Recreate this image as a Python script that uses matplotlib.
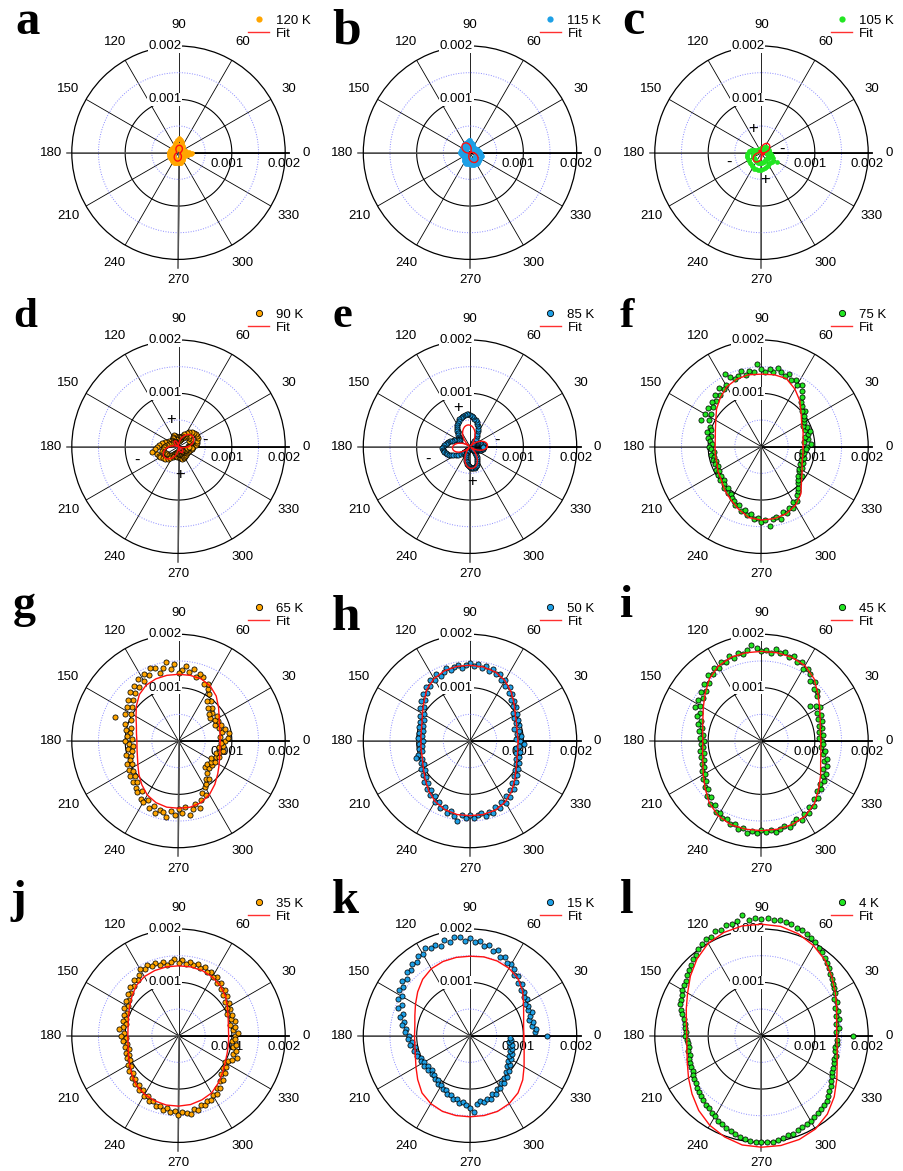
import numpy as np
import matplotlib.pyplot as plt
from matplotlib.lines import Line2D

plt.rcParams['font.family'] = ['Liberation Sans', 'DejaVu Sans']

# ---- data (radius in units of 1e-3) ----
temps = ['120 K', '115 K', '105 K', '90 K', '85 K', '75 K',
         '65 K', '50 K', '45 K', '35 K', '15 K', '4 K']
letters = list('abcdefghijkl')

orange = '#FFA500'
blue = '#1EA0E6'
green = '#22E622'
colors = [orange, blue, green] * 4

# measured points, evenly spaced in angle starting at 0 deg
r_a = [.25, .12, .19, .08, .14, .07, .12, .06, .11, .05, .10, .06, .10, .05, .10, .06, .11, .07, .13, .08,
       .15, .09, .18, .11, .21, .13, .24, .15, .26, .14, .27, .15, .24, .13, .21, .12, .19, .10, .17, .09,
       .15, .08, .14, .07, .13, .08, .13, .08, .14, .09, .14, .09, .15, .10, .16, .10, .17, .11, .17, .11,
       .17, .10, .17, .11, .17, .10, .18, .11, .18, .12, .18, .11, .18, .12, .19, .12, .19, .13, .20, .13,
       .20, .14, .21, .13, .20, .14, .20, .13, .20, .14, .20, .13, .20, .13, .19, .12, .18, .11, .17, .10,
       .15, .09, .14, .08, .13, .08, .12, .07, .12, .07, .12, .08, .14, .09, .16, .11, .19, .13, .23, .15]
r_b = [.19, .11, .18, .10, .17, .09, .16, .10, .15, .08, .14, .08, .13, .07, .13, .07, .12, .08, .12, .07,
       .13, .08, .15, .09, .17, .10, .19, .11, .21, .12, .23, .13, .24, .12, .22, .13, .21, .12, .20, .11,
       .20, .12, .19, .11, .18, .10, .17, .10, .17, .09, .16, .10, .17, .09, .17, .10, .18, .10, .19, .11,
       .18, .10, .17, .09, .16, .09, .15, .08, .14, .08, .14, .09, .15, .09, .16, .10, .18, .11, .19, .11,
       .20, .12, .21, .12, .22, .13, .22, .13, .22, .12, .22, .13, .23, .13, .23, .14, .24, .14, .24, .15,
       .25, .14, .24, .14, .23, .13, .22, .13, .22, .12, .22, .12, .22, .13, .23, .12, .21, .11, .20, .11]
r_c = [.15, .09, .15, .08, .15, .08, .14, .07, .14, .07, .14, .07, .13, .07, .13, .06, .14, .07, .13, .06,
       .12, .06, .11, .05, .10, .05, .09, .04, .08, .04, .08, .04, .08, .04, .08, .04, .08, .04, .08, .04,
       .08, .04, .08, .04, .08, .04, .08, .05, .09, .05, .10, .06, .13, .07, .16, .09, .20, .11, .24, .13,
       .26, .15, .27, .16, .28, .16, .28, .17, .28, .17, .28, .17, .28, .17, .28, .17, .29, .18, .30, .19,
       .32, .19, .33, .20, .33, .20, .33, .20, .33, .20, .32, .19, .31, .18, .30, .18, .29, .17, .28, .16,
       .26, .15, .25, .15, .25, .15, .26, .16, .27, .17, .33, .16, .24, .14, .21, .12, .19, .11, .17, .10]
r_d = [.28, .18, .33, .21, .36, .24, .37, .26, .39, .22, .40, .28, .41, .25, .39, .29, .38, .23, .35, .24,
       .30, .19, .26, .15, .22, .13, .19, .12, .18, .11, .18, .12, .19, .13, .21, .14, .22, .15, .23, .13,
       .20, .12, .19, .11, .18, .10, .17, .11, .18, .12, .20, .14, .23, .16, .27, .19, .31, .22, .36, .25,
       .40, .28, .44, .30, .51, .32, .43, .29, .41, .27, .39, .26, .36, .24, .34, .21, .30, .19, .26, .16,
       .22, .14, .19, .12, .18, .11, .18, .12, .19, .13, .20, .14, .21, .15, .22, .16, .24, .17, .24, .15,
       .22, .14, .21, .13, .20, .12, .18, .12, .19, .13, .20, .14, .21, .15, .23, .16, .25, .17, .26, .19]
r_e = [.26, .23, .27, .24, .25, .21, .20, .17, .15, .12, .10, .08, .07, .06, .05, .07, .09, .13, .18, .23,
       .28, .33, .37, .41, .45, .48, .51, .53, .56, .57, .59, .61, .62, .60, .59, .58, .56, .55, .52, .50,
       .47, .45, .42, .39, .35, .31, .28, .25, .23, .22, .24, .27, .30, .33, .36, .39, .42, .44, .46, .48,
       .50, .53, .51, .49, .50, .47, .46, .43, .39, .35, .31, .27, .22, .18, .14, .11, .08, .07, .08, .10,
       .12, .15, .18, .21, .24, .27, .30, .33, .35, .37, .38, .40, .41, .40, .41, .39, .38, .36, .33, .30,
       .27, .23, .19, .16, .12, .09, .07, .06, .08, .10, .12, .14, .16, .18, .20, .22, .23, .24, .25, .24]
r_f = [.86, .92, .80, .88, .84, .90, .95, .88, .93, .87, .92, .96, .99, 1.05, 1.01, 1.08, 1.12, 1.20, 1.30, 1.38,
       1.33, 1.41, 1.37, 1.46, 1.40, 1.44, 1.50, 1.42, 1.46, 1.40, 1.45, 1.56, 1.41, 1.44, 1.38, 1.47, 1.40, 1.36, 1.43, 1.52,
       1.34, 1.28, 1.36, 1.24, 1.31, 1.20, 1.26, 1.18, 1.24, 1.13, 1.22, 1.10, 1.25, 1.04, 1.00, 1.06, .96, 1.01, .97, .93,
       .99, .94, .90, .96, .91, .95, .89, .93, .90, .96, .91, .97, .93, .99, .94, 1.00, 1.04, .99, 1.07, 1.05,
       1.12, 1.15, 1.20, 1.17, 1.26, 1.23, 1.31, 1.27, 1.36, 1.33, 1.41, 1.37, 1.50, 1.38, 1.35, 1.40, 1.29, 1.33, 1.25, 1.28,
       1.19, 1.22, 1.12, 1.08, 1.03, .96, .92, .88, .93, .84, .82, .86, .79, .83, .78, .82, .77, .81, .76, .83]
r_g = [.88, .92, .78, .95, .83, .90, .79, .86, .75, .84, .78, .87, .74, .82, .77, .88, .84, .97, .92, 1.05,
       1.12, 1.20, 1.16, 1.28, 1.33, 1.25, 1.38, 1.30, 1.42, 1.34, 1.28, 1.45, 1.36, 1.50, 1.39, 1.32, 1.44, 1.47, 1.35, 1.41,
       1.30, 1.38, 1.26, 1.33, 1.21, 1.29, 1.15, 1.22, 1.08, 1.16, 1.03, 1.12, .98, 1.27, 1.05, .93, 1.01, .92, .97, .88,
       1.00, .93, .86, .95, .90, 1.01, .93, .98, 1.06, .97, 1.07, 1.02, 1.12, 1.05, 1.16, 1.10, 1.19, 1.24, 1.16, 1.29,
       1.33, 1.24, 1.38, 1.30, 1.42, 1.33, 1.37, 1.45, 1.31, 1.38, 1.28, 1.36, 1.25, 1.41, 1.30, 1.22, 1.33, 1.18, 1.07, 1.14,
       1.00, .96, .88, .92, .80, .70, .76, .68, .78, .72, .80, .69, .76, .82, .73, .80, .86, .77, .84, .80]
r_h = [.93, .87, .96, .89, .94, .86, .97, .92, .99, .93, 1.02, .96, 1.07, 1.03, 1.12, 1.09, 1.19, 1.15, 1.26, 1.22,
       1.33, 1.29, 1.38, 1.34, 1.41, 1.36, 1.44, 1.39, 1.46, 1.40, 1.47, 1.43, 1.38, 1.45, 1.41, 1.37, 1.43, 1.38, 1.33, 1.40,
       1.31, 1.36, 1.27, 1.31, 1.20, 1.25, 1.14, 1.18, 1.07, 1.12, 1.00, 1.05, .95, 1.00, .93, .98, .90, .96, .91, .97,
       .89, .95, .90, .97, .92, 1.00, 1.06, .96, 1.01, .97, 1.05, 1.01, 1.10, 1.06, 1.15, 1.11, 1.20, 1.17, 1.26, 1.22,
       1.33, 1.29, 1.37, 1.33, 1.41, 1.36, 1.44, 1.51, 1.39, 1.44, 1.38, 1.45, 1.40, 1.36, 1.43, 1.37, 1.41, 1.33, 1.38, 1.28,
       1.34, 1.24, 1.29, 1.18, 1.22, 1.12, 1.15, 1.05, 1.09, 1.00, 1.04, .96, 1.00, .92, .96, .90, .95, .88, .93, 1.01]
r_i = [1.14, 1.08, 1.16, 1.10, 1.15, 1.12, 1.19, 1.14, 1.22, 1.17, 1.26, 1.21, 1.12, 1.35, 1.41, 1.38, 1.49, 1.45, 1.56, 1.60,
       1.55, 1.66, 1.62, 1.70, 1.65, 1.72, 1.68, 1.74, 1.66, 1.71, 1.69, 1.75, 1.80, 1.72, 1.66, 1.71, 1.64, 1.70, 1.63, 1.67,
       1.58, 1.64, 1.55, 1.59, 1.47, 1.52, 1.41, 1.46, 1.36, 1.42, 1.33, 1.39, 1.27, 1.30, 1.20, 1.24, 1.14, 1.18, 1.11, 1.15,
       1.08, 1.13, 1.10, 1.16, 1.11, 1.17, 1.13, 1.20, 1.18, 1.25, 1.22, 1.31, 1.28, 1.37, 1.34, 1.45, 1.42, 1.52, 1.49, 1.58,
       1.55, 1.63, 1.60, 1.67, 1.63, 1.71, 1.66, 1.74, 1.69, 1.72, 1.66, 1.71, 1.67, 1.73, 1.68, 1.64, 1.70, 1.65, 1.61, 1.66,
       1.58, 1.62, 1.53, 1.57, 1.47, 1.50, 1.40, 1.44, 1.36, 1.39, 1.33, 1.35, 1.27, 1.31, 1.24, 1.28, 1.17, 1.20, 1.12, 1.16]
r_j = [1.05, 1.12, 1.02, 1.08, .98, 1.10, 1.03, 1.07, 1.00, 1.09, 1.05, 1.12, 1.08, 1.17, 1.13, 1.22, 1.18, 1.27, 1.23, 1.31,
       1.28, 1.34, 1.30, 1.37, 1.33, 1.39, 1.35, 1.40, 1.36, 1.42, 1.37, 1.44, 1.39, 1.35, 1.41, 1.37, 1.43, 1.39, 1.45, 1.40,
       1.44, 1.36, 1.30, 1.34, 1.25, 1.29, 1.19, 1.23, 1.14, 1.18, 1.10, 1.14, 1.06, 1.10, 1.03, 1.08, 1.01, 1.06, 1.12, 1.02,
       1.07, .99, 1.04, .98, 1.02, .97, 1.03, .99, 1.05, 1.02, 1.09, 1.06, 1.14, 1.10, 1.18, 1.15, 1.21, 1.19, 1.25, 1.22,
       1.30, 1.27, 1.35, 1.32, 1.39, 1.36, 1.42, 1.38, 1.44, 1.41, 1.48, 1.43, 1.46, 1.49, 1.41, 1.44, 1.37, 1.40, 1.33, 1.36,
       1.28, 1.31, 1.22, 1.25, 1.15, 1.18, 1.08, 1.11, 1.03, 1.07, 1.00, 1.05, 1.10, 1.17, 1.08, 1.12, 1.04, 1.09, 1.01, 1.06]
r_k = [1.44, 1.22, 1.25, 1.17, 1.21, 1.15, 1.19, 1.24, 1.18, 1.23, 1.20, 1.27, 1.24, 1.31, 1.29, 1.37, 1.34, 1.43, 1.40, 1.50,
       1.55, 1.52, 1.62, 1.58, 1.68, 1.65, 1.74, 1.70, 1.79, 1.76, 1.83, 1.78, 1.86, 1.88, 1.80, 1.85, 1.77, 1.83, 1.79, 1.84,
       1.76, 1.79, 1.70, 1.74, 1.65, 1.68, 1.60, 1.63, 1.55, 1.58, 1.48, 1.52, 1.40, 1.44, 1.33, 1.36, 1.26, 1.29, 1.20, 1.22,
       1.14, 1.17, 1.10, 1.13, 1.06, 1.09, 1.04, 1.07, 1.01, 1.04, .99, 1.03, .98, 1.01, .97, 1.02, 1.00, 1.05, 1.03, 1.09,
       1.07, 1.13, 1.11, 1.18, 1.16, 1.23, 1.21, 1.27, 1.25, 1.30, 1.36, 1.43, 1.29, 1.24, 1.28, 1.22, 1.25, 1.17, 1.20, 1.12,
       1.14, 1.06, 1.09, 1.01, 1.03, .95, .98, .90, .93, .86, .89, .83, .86, .80, .83, .77, .80, .74, .78, .76]
r_l = [1.71, 1.40, 1.46, 1.42, 1.48, 1.44, 1.51, 1.47, 1.55, 1.52, 1.60, 1.63, 1.66, 1.70, 1.74, 1.79, 1.84, 1.88, 1.93, 1.97,
       2.02, 2.06, 2.09, 2.12, 2.13, 2.16, 2.17, 2.19, 2.18, 2.20, 2.19, 2.21, 2.19, 2.30, 2.20, 2.17, 2.18, 2.13, 2.14, 2.08,
       2.09, 2.04, 2.01, 1.95, 1.93, 1.87, 1.84, 1.80, 1.76, 1.73, 1.71, 1.68, 1.66, 1.64, 1.58, 1.54, 1.49, 1.46, 1.44, 1.42,
       1.43, 1.40, 1.38, 1.37, 1.41, 1.39, 1.42, 1.43, 1.45, 1.44, 1.48, 1.50, 1.52, 1.55, 1.58, 1.60, 1.63, 1.66, 1.68, 1.72,
       1.74, 1.79, 1.82, 1.85, 1.88, 1.91, 1.94, 1.96, 1.98, 1.99, 2.00, 1.99, 2.01, 1.97, 1.96, 1.93, 1.94, 1.90, 1.88, 1.86,
       1.84, 1.82, 1.79, 1.77, 1.74, 1.73, 1.68, 1.64, 1.61, 1.56, 1.52, 1.49, 1.47, 1.45, 1.43, 1.44, 1.41, 1.40, 1.42, 1.41]

# fitted curves, evenly spaced in angle starting at 0 deg
fit_a = [.033, .037, .043, .050, .058, .066, .075, .085, .095, .104, .113, .120, .127, .133, .137, .139, .140, .139,
         .137, .133, .127, .120, .113, .104, .095, .085, .075, .066, .058, .050, .043, .037, .033, .031, .030, .031,
         .035, .040, .046, .054, .063, .072, .082, .093, .104, .114, .124, .133, .141, .148, .153, .157, .159, .158,
         .155, .150, .144, .137, .128, .118, .107, .096, .085, .074, .063, .053, .045, .039, .034, .031, .030, .031]
fit_b = [.069, .053, .038, .025, .014, .006, .002, 0, .002, .006, .014, .025, .038, .053, .069, .087, .105, .123,
         .141, .158, .172, .185, .196, .204, .208, .210, .208, .204, .196, .185, .172, .158, .141, .123, .105, .087,
         .069, .053, .038, .025, .014, .006, .002, 0, .002, .006, .014, .025, .038, .053, .069, .087, .105, .123,
         .141, .158, .172, .185, .196, .204, .208, .210, .208, .204, .196, .185, .172, .158, .141, .123, .105, .087]
fit_c = [.052, .075, .098, .121, .143, .162, .178, .192, .202, .208, .210, .208, .202, .192, .178, .162, .143, .121,
         .098, .075, .052, .029, .008, .012, .028, .042, .052, .058, .060, .058, .052, .042, .028, .012, .008, .029,
         .052, .075, .098, .121, .143, .162, .178, .192, .202, .208, .210, .208, .202, .192, .178, .162, .143, .121,
         .098, .075, .052, .029, .008, .012, .028, .042, .052, .058, .060, .058, .052, .042, .028, .012, .008, .029]
fit_d = [.179, .215, .248, .276, .299, .316, .327, .330, .327, .316, .299, .276, .248, .215, .179, .140, .100, .060,
         .021, .015, .048, .076, .099, .116, .127, .130, .127, .116, .099, .076, .048, .015, .021, .060, .100, .140,
         .179, .215, .248, .276, .299, .316, .327, .330, .327, .316, .299, .276, .248, .215, .179, .140, .100, .060,
         .021, .015, .048, .076, .099, .116, .127, .130, .127, .116, .099, .076, .048, .015, .021, .060, .100, .140]
fit_e = [.324, .330, .324, .308, .280, .243, .198, .145, .087, .024, .040, .104, .167, .225, .278, .323, .360, .388,
         .404, .410, .404, .388, .360, .323, .278, .225, .167, .104, .040, .024, .087, .145, .198, .243, .280, .308,
         .324, .330, .324, .308, .280, .243, .198, .145, .087, .024, .040, .104, .167, .225, .278, .323, .360, .388,
         .404, .410, .404, .388, .360, .323, .278, .225, .167, .104, .040, .024, .087, .145, .198, .243, .280, .308]
fit_f = [.78, .79, .83, .87, .97, 1.12, 1.25, 1.36, 1.37, 1.36, 1.37, 1.35, 1.30, 1.20, 1.10, .99, .92, .88,
         .87, .88, .89, .94, .98, 1.07, 1.15, 1.25, 1.35, 1.375, 1.37, 1.34, 1.27, 1.15, .98, .88, .81, .79]
fit_g = [.78, .79, .82, .88, .98, 1.10, 1.19, 1.24, 1.25, 1.25, 1.25, 1.24, 1.21, 1.14, 1.03, .92, .84, .80,
         .78, .79, .82, .88, .97, 1.07, 1.17, 1.23, 1.26, 1.26, 1.26, 1.23, 1.16, 1.06, .96, .88, .82, .79]
fit_h = [.90, .90, .93, .98, 1.08, 1.20, 1.31, 1.38, 1.41, 1.42, 1.42, 1.40, 1.35, 1.26, 1.13, 1.03, .96, .93,
         .92, .93, .95, 1.01, 1.10, 1.21, 1.31, 1.37, 1.40, 1.40, 1.40, 1.38, 1.32, 1.22, 1.10, 1.00, .94, .91]
fit_i = [1.11, 1.12, 1.17, 1.26, 1.38, 1.53, 1.63, 1.67, 1.68, 1.68, 1.68, 1.67, 1.62, 1.52, 1.38, 1.26, 1.17, 1.12,
         1.10, 1.12, 1.17, 1.26, 1.38, 1.52, 1.62, 1.67, 1.68, 1.68, 1.68, 1.67, 1.63, 1.54, 1.40, 1.28, 1.18, 1.13]
fit_j = [.94, .95, .99, 1.06, 1.15, 1.22, 1.27, 1.30, 1.31, 1.31, 1.31, 1.30, 1.28, 1.23, 1.14, 1.06, 1.00, .96,
         .95, .96, 1.00, 1.06, 1.14, 1.22, 1.27, 1.30, 1.32, 1.32, 1.31, 1.28, 1.24, 1.16, 1.08, 1.01, .97, .95]
fit_k = [1.01, 1.02, 1.07, 1.16, 1.29, 1.40, 1.46, 1.49, 1.50, 1.49, 1.49, 1.48, 1.45, 1.38, 1.28, 1.18, 1.10, 1.05,
         1.04, 1.05, 1.09, 1.17, 1.28, 1.40, 1.47, 1.51, 1.52, 1.52, 1.52, 1.51, 1.47, 1.40, 1.29, 1.17, 1.08, 1.03]
fit_l = [1.41, 1.43, 1.50, 1.60, 1.72, 1.85, 1.95, 2.03, 2.08, 2.09, 2.09, 2.06, 2.00, 1.88, 1.74, 1.60, 1.50, 1.43,
         1.40, 1.42, 1.48, 1.58, 1.70, 1.83, 1.94, 2.02, 2.08, 2.09, 2.09, 2.07, 2.02, 1.92, 1.78, 1.63, 1.51, 1.44]

data_r = [r_a, r_b, r_c, r_d, r_e, r_f, r_g, r_h, r_i, r_j, r_k, r_l]
fit_r = [fit_a, fit_b, fit_c, fit_d, fit_e, fit_f, fit_g, fit_h, fit_i, fit_j, fit_k, fit_l]

# sign annotations: (angle deg, radius 1e-3, text)
signs = {
    2: [(108, .48, '+'), (9, .385, '-'), (197, .645, '-'), (278, .515, '+')],
    3: [(106, .53, '+'), (13, .51, '-'), (198, .82, '-'), (273, .53, '+')],
    4: [(107, .77, '+'), (13, .51, '-'), (197, .83, '-'), (273, .655, '+')],
}

angle_ticks = list(range(0, 360, 30))

# ---- layout (pixels) ----
W, H = 904, 1171
R = 106.7
col_x = [178.5, 470.0, 761.5]
row_y = [152.7, 446.7, 741.0, 1035.7]
letter_x = [15, 332, 622, 13, 332, 620, 13, 332, 620, 10, 332, 620]
letter_base = [34, 43, 34, 327, 327, 327, 617, 630, 617, 912, 913, 913]
letter_size = [35, 37, 36, 31, 32, 31, 33, 37, 34, 34, 35, 35]

fig = plt.figure(figsize=(W / 100, H / 100), dpi=100)
tt = np.linspace(0, 2 * np.pi, 361)
px = 0.72  # points per pixel at 100 dpi

for i in range(12):
    row, col = divmod(i, 3)
    cx, cy = col_x[col], row_y[row]
    ax = fig.add_axes([(cx - R) / W, 1 - (cy + R) / H, 2 * R / W, 2 * R / H], projection='polar')
    ax.set_rlim(0, 0.002)
    ax.set_yticks([])
    ax.set_thetagrids(angle_ticks, labels=[''] * len(angle_ticks))
    ax.xaxis.grid(True, color='k', lw=0.6)
    ax.tick_params(axis='x', length=0)
    ax.spines['polar'].set_linewidth(0.9)
    ax.spines['polar'].set_color('k')

    # rings
    ax.plot(tt, np.full_like(tt, 0.001), color='k', lw=0.8, zorder=1.6)
    for rr in (0.0005, 0.0015):
        ax.plot(tt, np.full_like(tt, rr), color='#8a8aff', lw=0.7, ls=(0, (1, 1.6)), zorder=1.6)

    # main axis lines
    ax.plot([0, 0], [0, 0.00208], color='k', lw=1.3, clip_on=False, zorder=1.8)
    ax.plot([np.pi, np.pi], [0, 0.00209], color='#555555', lw=1.1, clip_on=False, zorder=1.8)
    ax.plot([1.5 * np.pi, 1.5 * np.pi], [0, 0.00216], color='#555555', lw=1.1, clip_on=False, zorder=1.8)

    # angle labels
    for a in angle_ticks:
        ax.text(np.deg2rad(a), 0.00239, str(a), ha='center', va='center', fontsize=9.5,
                clip_on=False, zorder=2.6)

    # radial labels
    for rv, lab in ((0.001, '0.001'), (0.002, '0.002')):
        ax.annotate(lab, xy=(np.pi / 2, rv), xytext=(3 * px, 0), textcoords='offset points',
                    ha='right', va='center', fontsize=9.5, zorder=2.6, annotation_clip=False,
                    bbox=dict(facecolor='white', edgecolor='none', pad=0.6))
    ax.annotate('0.001', xy=(0, 0.001), xytext=(-5 * px, -11.3 * px), textcoords='offset points',
                ha='center', va='center', fontsize=9.5, zorder=2.6, annotation_clip=False)
    ax.annotate('0.002', xy=(0, 0.002), xytext=(-1 * px, -11.3 * px), textcoords='offset points',
                ha='center', va='center', fontsize=9.5, zorder=2.6, annotation_clip=False)

    # data
    rd = np.array(data_r[i]) * 1e-3
    th = np.deg2rad(np.arange(len(rd)) * 360.0 / len(rd))
    c = colors[i]
    if row == 0:
        ax.plot(th, rd, 'o', ms=3.4, mfc=c, mec='none', zorder=3, clip_on=False)
        leg_marker = Line2D([], [], marker='o', ls='none', ms=4.5, mfc=c, mec='none')
    else:
        ax.plot(th, rd, 'o', ms=3.7, mfc=c, mec='k', mew=0.55, zorder=3, clip_on=False)
        leg_marker = Line2D([], [], marker='o', ls='none', ms=4.5, mfc=c, mec='k', mew=0.6)

    # fit
    rf = np.array(fit_r[i]) * 1e-3
    thf = np.deg2rad(np.arange(len(rf)) * 360.0 / len(rf))
    ax.plot(np.append(thf, thf[0] + 2 * np.pi), np.append(rf, rf[0]), color='#ff1010', lw=1.0,
            zorder=3.5, clip_on=False)

    for a, rr, s in signs.get(i, []):
        ax.text(np.deg2rad(a), rr * 1e-3, s, ha='center', va='center', fontsize=12, zorder=4)

    leg = ax.legend([leg_marker, Line2D([], [], color='#ff3030', lw=1.0)], [temps[i], 'Fit'],
                    loc='upper left', bbox_to_anchor=(0.827, 1.148), frameon=False, fontsize=9.5,
                    handlelength=1.6, handletextpad=0.5, borderpad=0, borderaxespad=0,
                    labelspacing=0.05, numpoints=1)
    leg.set_zorder(5)

    fig.text(letter_x[i] / W, 1 - letter_base[i] / H, letters[i], fontsize=letter_size[i],
             fontweight='bold', family='Liberation Serif', ha='left', va='baseline')

fig.savefig('out.png', dpi=100)
